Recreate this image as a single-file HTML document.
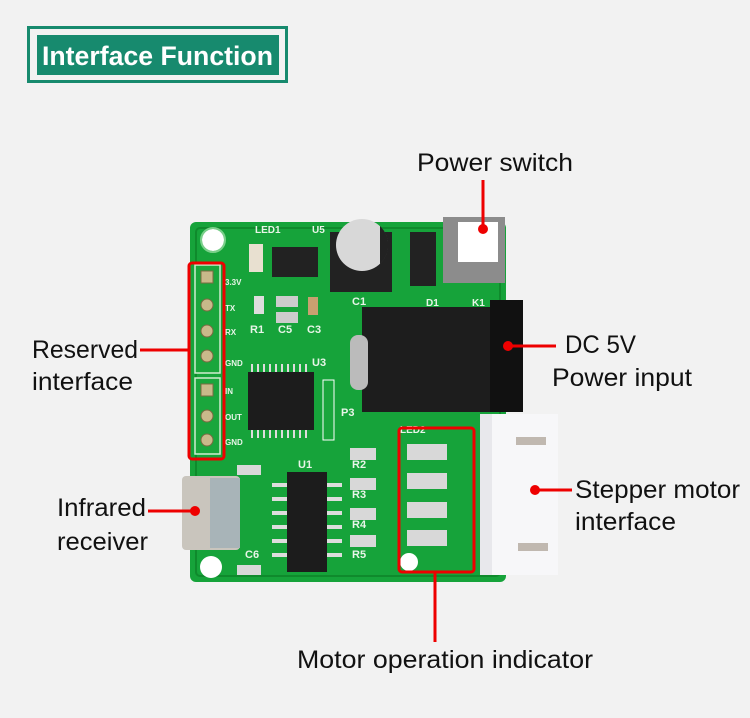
<!DOCTYPE html>
<html><head><style>
html,body{margin:0;padding:0;background:#f2f2f2}
svg{display:block}
text{font-family:"Liberation Sans",sans-serif}
</style></head><body>
<svg width="750" height="718" viewBox="0 0 750 718" xmlns="http://www.w3.org/2000/svg">
<rect width="750" height="718" fill="#f2f2f2"/>
<!-- title -->
<rect x="28.5" y="27.5" width="258" height="54" fill="none" stroke="#178a6e" stroke-width="3"/>
<rect x="37" y="35" width="242" height="40" fill="#178a6e"/>
<text x="42" y="65" font-size="27" font-weight="bold" fill="#fff" textLength="231" lengthAdjust="spacingAndGlyphs">Interface Function</text>

<!-- board -->
<rect x="190" y="222" width="316" height="360" rx="6" fill="#16a33a"/>
<rect x="196" y="228" width="304" height="348" rx="4" fill="none" stroke="#0f8a2c" stroke-width="2"/>
<circle cx="213" cy="240" r="11" fill="#fff"/><circle cx="213" cy="240" r="12" fill="none" stroke="#7ad08a" stroke-width="2"/>
<circle cx="211" cy="567" r="11" fill="#fff"/>
<circle cx="409" cy="562" r="9" fill="#fff"/>
<!-- header pins -->
<rect x="195" y="265" width="25" height="108" fill="#1aa63c" stroke="#cfeccf" stroke-width="1.5"/>
<rect x="195" y="378" width="25" height="76" fill="#1aa63c" stroke="#cfeccf" stroke-width="1.5"/>
<g fill="#c9b98a" stroke="#7a6a40" stroke-width="1">
<rect x="201" y="271" width="12" height="12"/>
<circle cx="207" cy="305" r="6"/><circle cx="207" cy="331" r="6"/><circle cx="207" cy="356" r="6"/>
<rect x="201" y="384" width="12" height="12"/>
<circle cx="207" cy="416" r="6"/><circle cx="207" cy="440" r="6"/>
</g>
<g fill="#e8f5e8" font-size="8" font-weight="bold">
<text x="225" y="285">3.3V</text><text x="225" y="311">TX</text><text x="225" y="335">RX</text><text x="225" y="366">GND</text>
<text x="225" y="394">IN</text><text x="225" y="420">OUT</text><text x="225" y="445">GND</text>
<text x="255" y="233" font-size="10">LED1</text><text x="312" y="233" font-size="10">U5</text>
<text x="250" y="333" font-size="11">R1</text><text x="278" y="333" font-size="11">C5</text><text x="307" y="333" font-size="11">C3</text>
<text x="312" y="366" font-size="11">U3</text><text x="341" y="416" font-size="11">P3</text>
<text x="298" y="468" font-size="11">U1</text><text x="352" y="468" font-size="11">R2</text>
<text x="352" y="498" font-size="11">R3</text><text x="352" y="528" font-size="11">R4</text><text x="352" y="558" font-size="11">R5</text>
<text x="245" y="558" font-size="11">C6</text><text x="352" y="305" font-size="11">C1</text><text x="426" y="306" font-size="10">D1</text>
<text x="472" y="306" font-size="10">K1</text><text x="400" y="433" font-size="10">LED2</text>
</g>
<!-- regulator & smd -->
<rect x="272" y="247" width="46" height="30" fill="#222"/>
<rect x="249" y="244" width="14" height="28" fill="#e8e0d0"/>
<rect x="254" y="296" width="10" height="18" fill="#ddd"/><rect x="276" y="296" width="22" height="11" fill="#ccc"/>
<rect x="276" y="312" width="22" height="11" fill="#ccc"/><rect x="308" y="297" width="10" height="18" fill="#c8a070"/>
<!-- capacitor -->
<rect x="330" y="232" width="62" height="60" fill="#222"/>
<circle cx="362" cy="245" r="26" fill="#d8d8d8"/>
<path d="M380 226 A26 26 0 0 1 380 264 Z" fill="#222"/>
<!-- D1 -->
<rect x="410" y="232" width="26" height="54" fill="#222"/>
<!-- switch -->
<rect x="443" y="217" width="62" height="66" fill="#8c8c8c"/>
<rect x="458" y="222" width="40" height="40" fill="#fff"/>
<!-- DC jack -->
<rect x="362" y="307" width="160" height="105" fill="#1d1d1d"/>
<rect x="490" y="300" width="33" height="112" fill="#111"/>
<rect x="350" y="335" width="18" height="55" rx="8" fill="#bbb"/>
<!-- U3 chip -->
<rect x="248" y="372" width="66" height="58" fill="#1c1c1c"/>
<g stroke="#ddd" stroke-width="2">
<path d="M252 364v8M258 364v8M264 364v8M270 364v8M276 364v8M282 364v8M288 364v8M294 364v8M300 364v8M306 364v8"/>
<path d="M252 430v8M258 430v8M264 430v8M270 430v8M276 430v8M282 430v8M288 430v8M294 430v8M300 430v8M306 430v8"/>
</g>
<rect x="323" y="380" width="11" height="60" fill="#1aa63c" stroke="#fff" stroke-width="1"/>
<!-- U1 -->
<rect x="287" y="472" width="40" height="100" fill="#1c1c1c"/>
<g stroke="#ddd" stroke-width="4">
<path d="M272 485h15M272 499h15M272 513h15M272 527h15M272 541h15M272 555h15"/>
<path d="M327 485h15M327 499h15M327 513h15M327 527h15M327 541h15M327 555h15"/>
</g>
<!-- resistors & LEDs -->
<g fill="#d8d8d8">
<rect x="350" y="448" width="26" height="12"/><rect x="350" y="478" width="26" height="12"/>
<rect x="350" y="508" width="26" height="12"/><rect x="350" y="535" width="26" height="12"/>
<rect x="407" y="444" width="40" height="16"/><rect x="407" y="473" width="40" height="16"/>
<rect x="407" y="502" width="40" height="16"/><rect x="407" y="530" width="40" height="16"/>
<rect x="237" y="465" width="24" height="10"/><rect x="237" y="565" width="24" height="10"/>
</g>
<!-- white connector -->
<rect x="480" y="414" width="78" height="161" fill="#f7f7f9"/>
<rect x="516" y="437" width="30" height="8" fill="#c0b8b0"/><rect x="518" y="543" width="30" height="8" fill="#c0b8b0"/>
<rect x="480" y="414" width="12" height="161" fill="#e8e8ec"/>
<!-- IR receiver -->
<rect x="182" y="476" width="58" height="74" rx="4" fill="#c9c5bd"/>
<rect x="210" y="478" width="30" height="70" fill="#a8b4b8"/>
<!-- red boxes & pointers -->
<g stroke="#ee0000" stroke-width="3" fill="none">
<rect x="189" y="263" width="35" height="196" rx="3"/>
<rect x="399" y="428" width="75" height="144" rx="3"/>
<path d="M140 350H189M148 511H195M483 229V180M508 346H556M535 490H572M435 572V642"/>
</g>
<g fill="#ee0000">
<circle cx="483" cy="229" r="5"/><circle cx="508" cy="346" r="5"/><circle cx="535" cy="490" r="5"/><circle cx="195" cy="511" r="5"/>
</g>
<!-- labels -->
<g font-size="25" fill="#111">
<text x="417" y="171" textLength="156" lengthAdjust="spacingAndGlyphs">Power switch</text>
<text x="565" y="353" textLength="71" lengthAdjust="spacingAndGlyphs">DC 5V</text>
<text x="552" y="386" textLength="140" lengthAdjust="spacingAndGlyphs">Power input</text>
<text x="575" y="498" textLength="165" lengthAdjust="spacingAndGlyphs">Stepper motor</text>
<text x="575" y="530" textLength="101" lengthAdjust="spacingAndGlyphs">interface</text>
<text x="32" y="358" textLength="106" lengthAdjust="spacingAndGlyphs">Reserved</text>
<text x="32" y="390" textLength="101" lengthAdjust="spacingAndGlyphs">interface</text>
<text x="57" y="516" textLength="89" lengthAdjust="spacingAndGlyphs">Infrared</text>
<text x="57" y="550" textLength="91" lengthAdjust="spacingAndGlyphs">receiver</text>
<text x="297" y="668" textLength="296" lengthAdjust="spacingAndGlyphs">Motor operation indicator</text>
</g>
</svg>
</body></html>
